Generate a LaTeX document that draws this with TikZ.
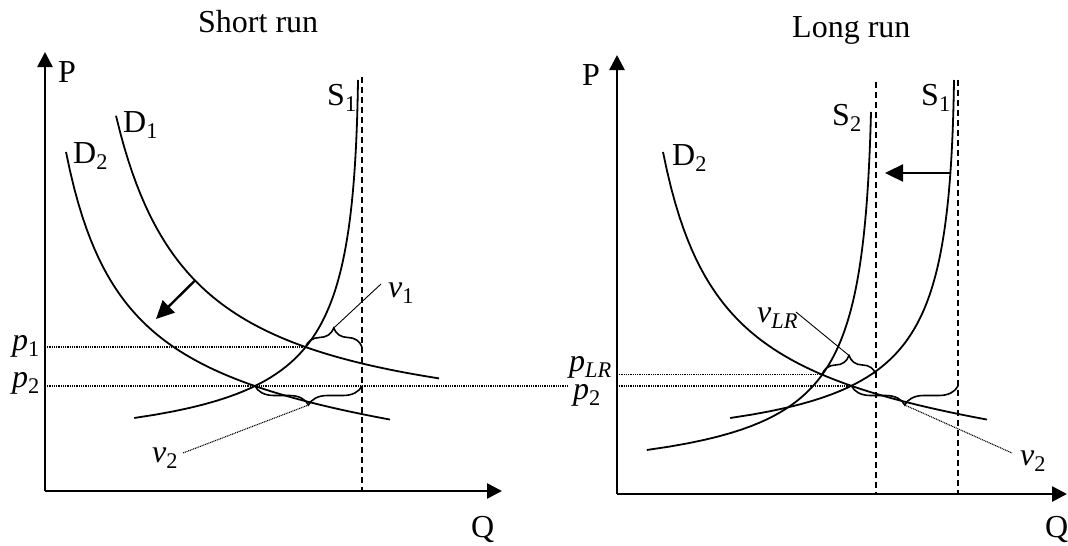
\documentclass[tikz,border=0pt]{standalone}
\usepackage{fontspec}
\setmainfont{Liberation Serif}
\usetikzlibrary{arrows.meta,decorations.pathreplacing}
\begin{document}
\begin{tikzpicture}[x=1pt,y=-1pt,
  lbl/.style={inner sep=0pt, anchor=base west, font=\fontsize{32}{38}\selectfont},
  axisline/.style={line width=2.6pt, -{Triangle[length=15pt,width=15pt]}},
  curve/.style={line width=1.8pt},
  capline/.style={line width=1.8pt, dash pattern=on 6pt off 4pt},
  priceline/.style={line width=1.3pt, dash pattern=on 1pt off 0.8pt},
  leader/.style={line width=0.9pt},
  dleader/.style={line width=1.1pt, dash pattern=on 1pt off 0.8pt},
  bracket/.style={line width=1.6pt, decorate, decoration={brace, amplitude=19pt}},
  shiftarrow/.style={line width=2.4pt, -{Triangle[length=18pt,width=17pt]}},
]
\useasboundingbox (0,0) rectangle (1068,546);

% ---------- Short run ----------
\node[lbl] (tS) at (198,32) {Short run};
\coordinate (OL) at (45,491);
\coordinate (YL) at (45,52);
\coordinate (XL) at (502,491);
\draw[axisline] (OL) -- (YL);
\draw[axisline] (OL) -- (XL);
\node[lbl] (PL) at (58,82) {P};
\node[lbl] (QL) at (471,537) {Q};

\coordinate (CapLtop) at (362,77);
\coordinate (CapLbot) at (362,491);
\draw[capline] (CapLtop) -- (CapLbot);

% D1
\draw[curve] plot[domain=116:439, samples=80] (\x, {441-250.45*(100/(\x-39))});
% D2
\draw[curve] plot[domain=66:390, samples=80] (\x, {435.7+0.0709*\x-167.29*(100/(\x-8))});
% S1
\draw[curve] plot[domain=80:418, samples=100] ({381.36+0.0602*\x-106.21*(100/(457-\x))}, \x);

\node[lbl] (S1L) at (327,105) {S\textsubscript{1}};
\node[lbl] (D1L) at (123,132) {D\textsubscript{1}};
\node[lbl] (D2L) at (73,163) {D\textsubscript{2}};

\coordinate (E1) at (305.5,347);
\coordinate (E2) at (255,386);
\coordinate (P1ax) at (45,347);
\coordinate (P2ax) at (45,386);
\coordinate (P2end) at (568,386);
\draw[priceline] (P1ax) -- (E1);
\draw[priceline] (P2ax) -- (P2end);
\node[lbl] (p1) at (12,350) {\textit{p}\textsubscript{1}};
\node[lbl] (p2L) at (12,387) {\textit{p}\textsubscript{2}};

\coordinate (dA) at (195,280.5);
\coordinate (dB) at (156,319);
\draw[shiftarrow] (dA) -- (dB);

\coordinate (B1r) at (362,347);
\draw[bracket] (E1) -- (B1r);
\coordinate (B1tip) at (333.75,328);
\coordinate (V1end) at (381,284);
\draw[leader] (B1tip) -- (V1end);
\node[lbl] (v1) at (388,297) {\textit{v}\textsubscript{1}};

\coordinate (B2r) at (362,386);
\draw[bracket] (B2r) -- (E2);
\coordinate (B2tip) at (308.5,405);
\coordinate (V2end) at (183,453);
\draw[dleader] (B2tip) -- (V2end);
\node[lbl] (v2L) at (152,462) {\textit{v}\textsubscript{2}};

% ---------- Long run ----------
\node[lbl] (tL) at (792,37) {Long run};
\coordinate (OR) at (617,494);
\coordinate (YR) at (617,55);
\coordinate (XR) at (1067,494);
\draw[axisline] (OR) -- (YR);
\draw[axisline] (OR) -- (XR);
\node[lbl] (PR) at (582,85) {P};
\node[lbl] (QR) at (1045,537) {Q};

\coordinate (Cap2top) at (876,82);
\coordinate (Cap2bot) at (876,494);
\coordinate (Cap1top) at (958,80);
\coordinate (Cap1bot) at (958,494);
\draw[capline] (Cap2top) -- (Cap2bot);
\draw[capline] (Cap1top) -- (Cap1bot);

% D2 (same curve as in the short run, shifted)
\draw[curve, xshift=597pt] plot[domain=66:390, samples=80] (\x, {435.7+0.0709*\x-167.29*(100/(\x-8))});
% S1 (same curve as in the short run, shifted)
\draw[curve, xshift=596pt] plot[domain=80:418, samples=100] ({381.36+0.0602*\x-106.21*(100/(457-\x))}, \x);
% S2
\draw[curve] plot[domain=112:450, samples=100] ({891.66+0.0424*\x-95.03*(100/(486-\x))}, \x);

\node[lbl] (S1R) at (921,105) {S\textsubscript{1}};
\node[lbl] (S2R) at (832,125) {S\textsubscript{2}};
\node[lbl] (D2R) at (672,165) {D\textsubscript{2}};

\coordinate (sA) at (950.4,173);
\coordinate (sB) at (885,173);
\draw[shiftarrow] (sA) -- (sB);

\coordinate (ELR) at (822,374.5);
\coordinate (E2R) at (851.5,386);
\coordinate (PLRax) at (617,374.5);
\coordinate (P2Rax) at (617,386);
\draw[priceline] (PLRax) -- (ELR);
\draw[priceline] (P2Rax) -- (E2R);
\node[lbl] (pLR) at (569,371) {\textit{p}\textsubscript{\textit{LR}}};
\node[lbl] (p2R) at (573,399) {\textit{p}\textsubscript{2}};

\coordinate (BLRr) at (876,374.5);
\draw[bracket] (ELR) -- (BLRr);
\coordinate (BLRtip) at (849,355.5);
\coordinate (VLRend) at (796,312);
\draw[leader] (BLRtip) -- (VLRend);
\node[lbl] (vLR) at (757,322) {\textit{v}\textsubscript{\textit{LR}}};

\coordinate (B2Rr) at (958,386);
\draw[bracket] (B2Rr) -- (E2R);
\coordinate (B2Rtip) at (904.75,405);
\coordinate (V2Rend) at (1012,453);
\draw[dleader] (B2Rtip) -- (V2Rend);
\node[lbl] (v2R) at (1020,465) {\textit{v}\textsubscript{2}};
\end{tikzpicture}
\end{document}
